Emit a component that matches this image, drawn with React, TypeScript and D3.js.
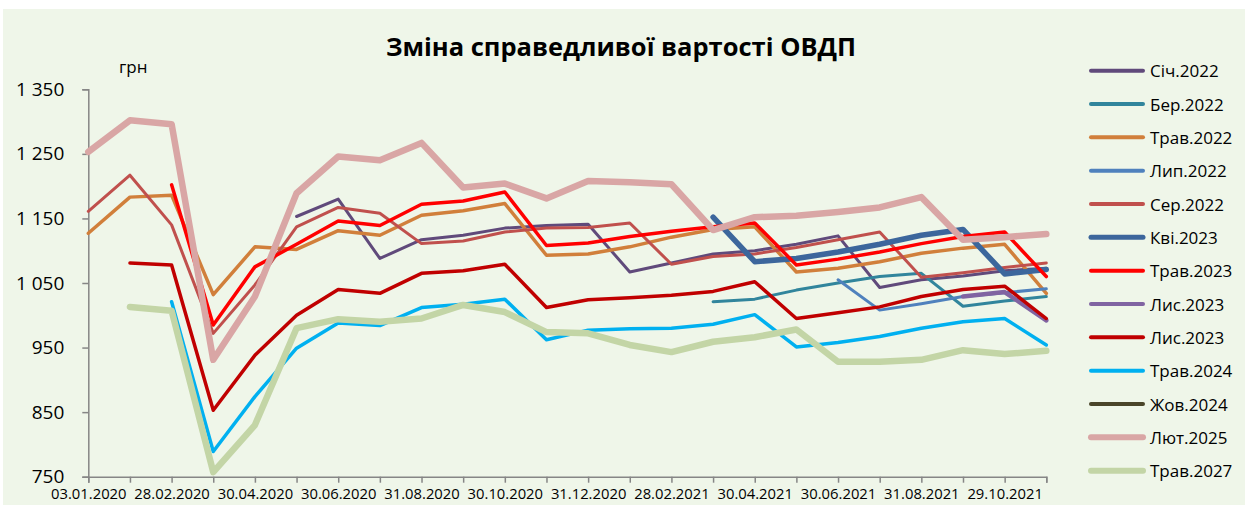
import * as d3 from 'd3';
import { FunctionComponent, useEffect, useRef } from "react";

const N = null;

const categories = [
    '03.01.2020', '31.01.2020', '28.02.2020', '31.03.2020', '30.04.2020', '29.05.2020',
    '30.06.2020', '31.07.2020', '31.08.2020', '30.09.2020', '30.10.2020', '30.11.2020',
    '31.12.2020', '29.01.2021', '28.02.2021', '31.03.2021', '30.04.2021', '31.05.2021',
    '30.06.2021', '30.07.2021', '31.08.2021', '30.09.2021', '29.10.2021', '30.11.2021'
];

const yTicks = [750, 850, 950, 1050, 1150, 1250, 1350];

const sich2022 = [N, N, N, N, N, 1153, 1180, 1088, 1117, 1124, 1135, 1139, 1141, 1067, 1081, 1095, 1100, 1110, 1123, 1043, 1055, 1061, 1069, 1073];
const ber2022 = [N, N, N, N, N, N, N, N, N, N, N, N, N, N, N, 1021, 1025, 1039, 1050, 1060, 1065, 1014, 1022, 1029];
const trav2022 = [1127, 1183, 1186, 1032, 1106, 1102, 1131, 1124, 1155, 1162, 1173, 1093, 1095, 1106, 1121, 1133, 1137, 1067, 1073, 1083, 1096, 1104, 1110, 1034];
const lyp2022 = [N, N, N, N, N, N, N, N, N, N, N, N, N, N, N, N, N, N, 1055, 1008, 1018, 1029, 1035, 1041];
const ser2022 = [1161, 1217, 1140, 972, 1047, 1137, 1167, 1158, 1111, 1115, 1129, 1135, 1136, 1143, 1079, 1091, 1095, 1105, 1117, 1129, 1059, 1066, 1074, 1081];
const kvi2023 = [N, N, N, N, N, N, N, N, N, N, N, N, N, N, N, 1152, 1083, 1088, 1098, 1110, 1124, 1133, 1064, 1071];
const trav2023 = [N, N, 1202, 985, 1075, 1110, 1146, 1139, 1172, 1177, 1191, 1108, 1112, 1122, 1130, 1137, 1143, 1078, 1087, 1098, 1111, 1122, 1129, 1060];
const lys2023a = [N, N, N, N, N, N, N, N, N, N, N, N, N, N, N, N, N, N, N, N, N, 1029, 1036, 992];
const lys2023b = [N, 1081, 1078, 853, 938, 1000, 1040, 1034, 1065, 1069, 1079, 1012, 1024, 1027, 1031, 1037, 1052, 995, 1004, 1013, 1029, 1040, 1045, 995];
const trav2024 = [N, N, 1021, 789, 874, 949, 988, 984, 1012, 1017, 1025, 962, 977, 979, 980, 986, 1001, 951, 958, 967, 980, 990, 995, 954];
const zhov2024 = [N, N, N, N, N, N, N, N, N, N, N, N, N, N, N, N, N, N, N, N, N, N, N, N];
const lyut2025 = [1253, 1302, 1296, 931, 1029, 1189, 1246, 1240, 1267, 1198, 1204, 1181, 1208, 1206, 1203, 1132, 1152, 1154, 1160, 1167, 1183, 1117, 1121, 1126];
const trav2027 = [N, 1013, 1007, 757, 830, 980, 994, 990, 995, 1016, 1005, 974, 972, 954, 943, 959, 966, 978, 928, 928, 931, 946, 940, 945];

type Series = { name: string, values: (number | null)[], color: string, width: number };

const series: Series[] = [
    { name: 'Січ.2022', values: sich2022, color: '#604a7b', width: 3 },
    { name: 'Бер.2022', values: ber2022, color: '#31859c', width: 3 },
    { name: 'Трав.2022', values: trav2022, color: '#d17f3b', width: 3.5 },
    { name: 'Лип.2022', values: lyp2022, color: '#4f81bd', width: 3 },
    { name: 'Сер.2022', values: ser2022, color: '#c0504d', width: 3 },
    { name: 'Кві.2023', values: kvi2023, color: '#3c669c', width: 5.5 },
    { name: 'Трав.2023', values: trav2023, color: '#ff0000', width: 3.5 },
    { name: 'Лис.2023', values: lys2023a, color: '#8064a2', width: 4.5 },
    { name: 'Лис.2023', values: lys2023b, color: '#c00000', width: 3.5 },
    { name: 'Трав.2024', values: trav2024, color: '#00b0f0', width: 3.5 },
    { name: 'Жов.2024', values: zhov2024, color: '#4a452a', width: 3.5 },
    { name: 'Лют.2025', values: lyut2025, color: '#d9a6a5', width: 6.5 },
    { name: 'Трав.2027', values: trav2027, color: '#c3d5a6', width: 6.5 },
];

const App: FunctionComponent = () => {
    const width = 1245;
    const height = 505;
    const svgRef = useRef<SVGSVGElement>(null);

    useEffect(() => {
        const svg = d3.select(svgRef.current);
        svg.selectAll('*').remove();
        const font = '"Open Sans", sans-serif';

        svg.append('rect')
            .attr('x', 3).attr('y', 9)
            .attr('width', width - 3).attr('height', height - 9)
            .attr('fill', '#eff6e9');

        const x = d3.scalePoint(categories, [88.3, 1046.3]);
        const y = d3.scaleLinear([750, 1350], [476.7, 89.3]);
        const fmt = d3.formatLocale({ decimal: '.', thousands: ' ', grouping: [3], currency: ['', ''] }).format(',');

        const yAxis = svg.append('g')
            .attr('transform', `translate(${88.3},0)`)
            .call(d3.axisLeft(y).tickValues(yTicks).tickFormat(d => fmt(d as number)).tickSize(6).tickPadding(18));
        yAxis.select('.domain').attr('stroke', '#868686').attr('stroke-width', 1.5);
        yAxis.selectAll('.tick line').attr('stroke', '#868686').attr('stroke-width', 1.5);
        yAxis.selectAll('.tick text')
            .attr('font-family', font).attr('font-size', 19).attr('fill', '#000');

        const xAxis = svg.append('g')
            .attr('transform', `translate(0,${476.7})`)
            .call(d3.axisBottom(x).tickSizeOuter(0).tickSize(6).tickPadding(6)
                .tickFormat((d, i) => i % 2 === 0 ? d : ''));
        xAxis.select('.domain').attr('stroke', '#868686').attr('stroke-width', 1.5);
        xAxis.selectAll('.tick line').attr('stroke', '#868686').attr('stroke-width', 1.5);
        xAxis.selectAll('.tick text')
            .attr('font-family', font).attr('font-size', 14.8).attr('fill', '#000');

        const line = d3.line<number | null>()
            .defined(d => d != null)
            .x((d, i) => x(categories[i])!)
            .y(d => y(d as number));

        series.forEach(s => {
            svg.append('path')
                .attr('fill', 'none')
                .attr('stroke', s.color)
                .attr('stroke-width', s.width)
                .attr('stroke-linejoin', 'round')
                .attr('stroke-linecap', 'round')
                .attr('d', line(s.values));
        });

        svg.append('text')
            .attr('x', 621).attr('y', 56)
            .attr('text-anchor', 'middle')
            .attr('font-family', font).attr('font-weight', 'bold').attr('font-size', 25.5)
            .text('Зміна справедливої вартості ОВДП');

        svg.append('text')
            .attr('x', 119).attr('y', 73)
            .attr('font-family', font).attr('font-size', 17)
            .text('грн');

        const legend = svg.append('g');
        series.forEach((s, i) => {
            const cy = 70.7 + i * 33.33;
            legend.append('line')
                .attr('x1', 1091).attr('x2', 1143)
                .attr('y1', cy).attr('y2', cy)
                .attr('stroke', s.color)
                .attr('stroke-width', Math.max(4, s.width - 0.5))
                .attr('stroke-linecap', 'round');
            legend.append('text')
                .attr('x', 1150).attr('y', cy)
                .attr('dominant-baseline', 'central')
                .attr('font-family', font).attr('font-size', 17)
                .text(s.name);
        });
    }, []);

    return <svg ref={svgRef} width={width} height={height}
        style={{ position: 'absolute', left: 0, top: 0 }} />;
}

export default App;
